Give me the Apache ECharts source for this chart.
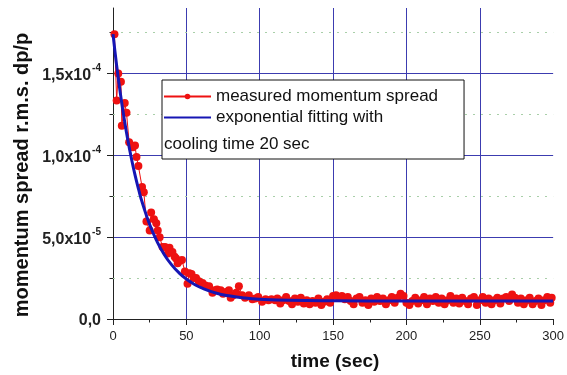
<!DOCTYPE html>
<html><head><meta charset="utf-8">
<script src="https://cdn.jsdelivr.net/npm/echarts@6/dist/echarts.min.js"></script>
<style>html,body{margin:0;padding:0;background:#fff}#c{width:567px;height:375px}</style>
</head><body><div id="c"></div>
<script>
// values in units of 1e-5
const measuredTime = [1,2.5,3.6,5.4,6,8,9.2,11,13.5,15,16,17.3,19.8,21,22.8,25,26,27.9,29.5,30.5,31.8,33.8,35.5,37.4,38.5,40.5,42,43,44.1,45.3,47,49,50.8,52,53.5,55,56.6,58.5,61,63,65.5,67.8,69.5,71,73.4,75,77,79,80.2,82,84,85.8,88,90,92.6,95,97,99,101.6,104,106,108,110.6,
112,114,116,118,120,122,124,126,128,130,132,134,136,138,140,142,144,146,148,150,152,154,156,158,160,162,164,166,168,170,172,174,176,178,180,182,184,186,188,190,192,194,196,198,200,202,204,206,208,210,212,214,216,218,220,222,224,226,228,230,232,234,236,238,240,242,244,246,248,250,252,254,256,258,260,262,264,266,268,270,272,274,276,278,280,282,284,286,288,290,292,294,296,298,299];
const measuredValue = [17.4,13.35,15.0,14.5,11.8,13.2,12.6,10.8,10.5,10.6,9.9,9.35,8.07,7.75,5.95,5.4,6.5,6.1,5.85,5.4,5.0,4.4,4.4,4.0,4.35,4.1,3.8,3.7,3.4,3.55,3.6,2.9,2.15,2.8,2.75,2.5,2.5,2.3,2.2,2.05,2.0,1.6,1.75,1.8,1.75,1.55,1.65,1.75,1.3,1.45,1.6,2.0,1.45,1.3,1.45,1.2,1.25,1.35,1.05,1.2,1.15,1.2,1.15,
1.25,0.95,1.15,1.35,1.1,0.9,1.25,1.05,1.3,0.95,1.15,0.9,1.1,1.0,1.25,0.85,1.05,1.2,1.0,1.4,1.45,1.3,1.4,1.2,1.35,1.1,0.9,1.25,1.35,1.0,1.15,0.85,1.25,1.05,1.35,1.1,1.25,0.9,1.15,1.35,1.0,1.3,1.55,1.4,1.0,0.85,1.1,1.3,0.95,1.15,1.35,0.9,1.25,1.1,1.35,1.0,1.25,0.9,1.15,1.4,1.0,1.25,0.95,1.3,1.1,0.9,1.25,1.35,0.85,1.15,1.35,1.0,1.25,0.9,1.15,1.3,0.95,1.25,1.35,1.1,1.5,1.3,1.0,1.25,0.9,1.15,1.3,0.9,1.1,1.25,0.85,1.15,1.35,1.0,1.3];
const fitTime = [0,2.5,5,7.5,10,12.5,15,17.5,20,25,30,35,40,45,50,55,60,70,80,90,100,120,150,200,250,300];
const fitValue = [17.4,15.48,13.79,12.3,10.99,9.83,8.8,7.9,7.1,5.77,4.74,3.93,3.31,2.82,2.44,2.14,1.91,1.59,1.4,1.28,1.21,1.14,1.11,1.1,1.1,1.1];
const yTickValues = [0,5,10,15];
const yTickMantissa = ['0,0','5,0x10','1,0x10','1,5x10'];
const yTickExponent = ['','-5','-4','-4'];
const yMinorValues = [2.5,7.5,12.5,17.5];
const xGridValues = [50,100,150,200,250];
const seriesNames = ['measured momentum spread','exponential fitting with'];
const legendExtra = 'cooling time 20 sec';
const xTitle = 'time (sec)';
const yTitle = 'momentum spread r.m.s. dp/p';

const FONT = '"Liberation Sans", Arial, sans-serif';
const chart = echarts.init(document.getElementById('c'), null, {renderer:'canvas'});
const measured = measuredTime.map((t,i)=>[t, measuredValue[i]]);
const fit = fitTime.map((t,i)=>[t, fitValue[i]]);
const majorColor = '#3c3cb0';
const minorColor = '#a9cfa9';
const majorStyle = {color:majorColor, width:1, type:'solid'};

const option = {
  backgroundColor:'#fff',
  animation:false,
  grid:{left:113, right:10, top:8, bottom:56, containLabel:false},
  xAxis:{type:'value', min:0, max:300, interval:50,
    axisLine:{show:true, onZero:false, lineStyle:{color:'#222', width:1}},
    axisTick:{show:true, length:6, lineStyle:{color:'#222'}},
    minorTick:{show:true, splitNumber:2, length:3.5, lineStyle:{color:'#222'}},
    axisLabel:{fontFamily:FONT, fontSize:13, color:'#222', margin:11},
    splitLine:{show:false}},
  yAxis:[{type:'value', min:0, max:19, interval:5,
    axisLine:{show:true, lineStyle:{color:'#222', width:1}},
    axisTick:{show:true, length:6, lineStyle:{color:'#222'}, customValues:yTickValues},
    axisLabel:{customValues:yTickValues, margin:12,
      formatter:(v)=>{const i=yTickValues.indexOf(v); if(i<0) return ''; return yTickExponent[i]? '{b|'+yTickMantissa[i]+'}{s|'+yTickExponent[i]+'}' : '{b|'+yTickMantissa[i]+'}';},
      rich:{b:{fontFamily:FONT, fontSize:16, fontWeight:'bold', color:'#222', lineHeight:20, verticalAlign:'bottom'},
            s:{fontFamily:FONT, fontSize:10, fontWeight:'bold', color:'#222', lineHeight:20, verticalAlign:'top', padding:[0,0,0,1]}}},
    splitLine:{show:true, lineStyle:{color:['rgba(0,0,0,0)',majorColor,majorColor,majorColor,'rgba(0,0,0,0)'], width:1}}},
   {type:'value', min:0, max:19, position:'left',
    axisLine:{show:false}, axisLabel:{show:false}, splitLine:{show:false},
    axisTick:{show:true, length:3.5, customValues:yMinorValues, lineStyle:{color:'#222'}}}],
  legend:{show:true, orient:'vertical', left:162, top:80,
    data:[{name:seriesNames[0]}, {name:seriesNames[1], itemStyle:{opacity:0}}],
    itemWidth:47, itemHeight:7, itemGap:4, padding:[8,26,33,1],
    backgroundColor:'#fff', borderColor:'#111', borderWidth:1, borderRadius:0,
    textStyle:{fontFamily:FONT, fontSize:17, color:'#111', lineHeight:17}},
  graphic:[
    {type:'text', left:164, top:136, z:100, style:{text:legendExtra, font:'17px '+FONT, fill:'#111'}},
    {type:'text', x:335, y:362, z:100, style:{text:xTitle, font:'bold 19px '+FONT, fill:'#111', textAlign:'center', textVerticalAlign:'middle'}},
    {type:'text', x:22, y:175, rotation:Math.PI/2, z:100, style:{text:yTitle, font:'bold 20px '+FONT, fill:'#111', textAlign:'center', textVerticalAlign:'middle'}}
  ],
  series:[
    {name:'major grid', type:'line', data:[], z:1, silent:true,
      markLine:{silent:true, symbol:['none','none'], label:{show:false}, z:1, animation:false,
        lineStyle:majorStyle,
        data: xGridValues.map(v=>({xAxis:v, lineStyle:majorStyle}))}},
    {name:'minor grid', type:'line', data:[], z:1, silent:true,
      markLine:{silent:true, symbol:['none','none'], label:{show:false}, z:1, animation:false,
        lineStyle:{color:minorColor, width:1, type:[2,6]},
        data: yMinorValues.map(v=>({yAxis:v}))}},
    {name:seriesNames[0], type:'line', data:measured, z:3,
      symbol:'circle', symbolSize:8, showSymbol:true,
      itemStyle:{color:'#ee1111'}, lineStyle:{color:'#ee1111', width:1}},
    {name:seriesNames[1], type:'line', data:fit, z:4, smooth:true,
      symbol:'none', showSymbol:false,
      itemStyle:{color:'#1616b4'}, lineStyle:{color:'#1616b4', width:3}}
  ]
};
chart.setOption(option);
</script></body></html>
